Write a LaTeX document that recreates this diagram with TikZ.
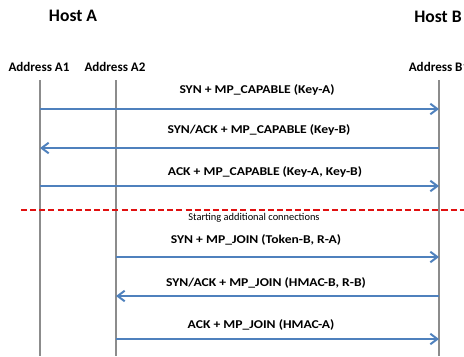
\documentclass[tikz,border=0pt]{standalone}
\usepackage{graphicx}
\usepackage{fontspec}
\setmainfont{Carlito}
\usetikzlibrary{arrows.meta}

\definecolor{msgblue}{HTML}{4F81BD}
\definecolor{lifegray}{HTML}{8C8C8C}
\definecolor{splitred}{HTML}{E01010}

% stretch a label sideways, as the reference does
\newcommand{\widelabel}[1]{\scalebox{1.14}[1]{#1}}

\begin{document}
\begin{tikzpicture}[x=0.025cm, y=-0.025cm,
    host/.style={font=\fontsize{12.5}{14}\selectfont\bfseries},
    addr/.style={font=\fontsize{9.3}{11}\selectfont\bfseries},
    msglabel/.style={font=\fontsize{8.5}{10}\selectfont\bfseries},
    life/.style={lifegray, line width=1.4pt},
    msg/.style={msgblue, line width=1.4pt, -{Straight Barb[length=5pt, width=7.5pt]}},
    splitline/.style={splitred, line width=1.4pt, dash pattern=on 4.3pt off 2.2pt}]

    \useasboundingbox (0,0) rectangle (464,356);

    % Hosts and their addresses
    \node[host] (hostA) at (73,16) {Host A};
    \node[host] (hostB) at (438,17) {Host B};
    \node[addr] (addrA1) at (39,67) {Address A1};
    \node[addr] (addrA2) at (115,67) {Address A2};
    \node[addr] (addrB1) at (439,67) {Address B1};

    % Lifelines
    \coordinate (A1) at (40,80);
    \coordinate (A2) at (116,80);
    \coordinate (B1) at (439,80);
    \coordinate (A1end) at (40,356);
    \coordinate (A2end) at (116,356);
    \coordinate (B1end) at (439,356);
    \draw[life] (A1) -- (A1end);
    \draw[life] (A2) -- (A2end);
    \draw[life] (B1) -- (B1end);

    % First subflow
    \node[msglabel] (m1) at (257,90) {\widelabel{SYN + MP\_CAPABLE (Key-A)}};
    \draw[msg] (A1 |- 0,109) -- (B1 |- 0,109);
    \node[msglabel] (m2) at (259,130) {\widelabel{SYN/ACK + MP\_CAPABLE (Key-B)}};
    \draw[msg] (B1 |- 0,148) -- (A1 |- 0,148);
    \node[msglabel] (m3) at (265,172) {\widelabel{ACK + MP\_CAPABLE (Key-A, Key-B)}};
    \draw[msg] (A1 |- 0,186) -- (B1 |- 0,186);

    % Separator
    \coordinate (splitL) at (21,210);
    \coordinate (splitR) at (464,210);
    \draw[splitline] (splitL) -- (splitR);
    \node[font=\fontsize{7.4}{8}\selectfont] (split) at (254,218) {Starting additional connections};

    % Second subflow
    \node[msglabel] (m4) at (256,240) {\widelabel{SYN + MP\_JOIN (Token-B, R-A)}};
    \draw[msg] (A2 |- 0,257) -- (B1 |- 0,257);
    \node[msglabel] (m5) at (266,283) {\widelabel{SYN/ACK + MP\_JOIN (HMAC-B, R-B)}};
    \draw[msg] (B1 |- 0,296) -- (A2 |- 0,296);
    \node[msglabel] (m6) at (261,325) {\widelabel{ACK + MP\_JOIN (HMAC-A)}};
    \draw[msg] (A2 |- 0,339) -- (B1 |- 0,339);

\end{tikzpicture}
\end{document}
